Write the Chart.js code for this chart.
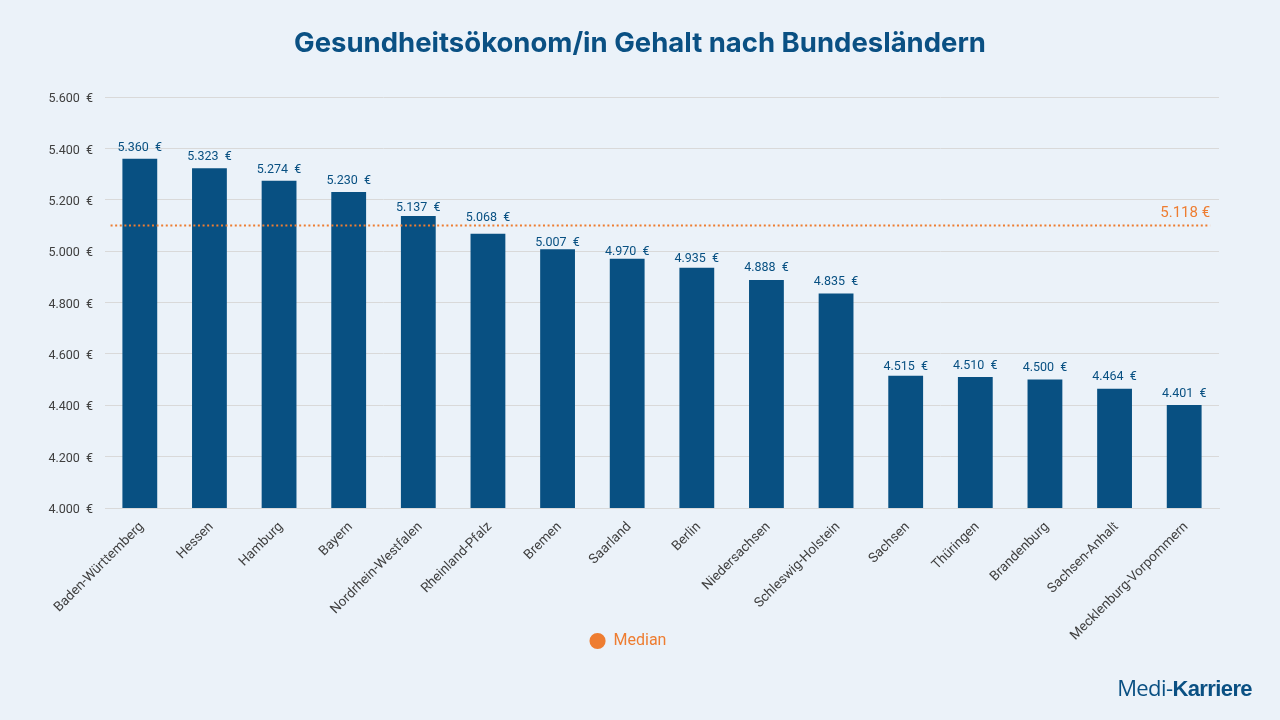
<!DOCTYPE html>
<html>
<head>
<meta charset="utf-8">
<title>Gesundheitsökonom/in Gehalt</title>
<script src="https://cdn.jsdelivr.net/npm/chart.js@4"></script>
<style>
  html, body { margin: 0; padding: 0; background: #ebf2f9; }
  #wrap { position: relative; width: 1280px; height: 720px; overflow: hidden; }
  #logo { position: absolute; right: 28px; top: 672px; color: #0a5083; font: 400 22px "Open Sans", sans-serif; letter-spacing: -0.6px; }
  #logo b { font-family: "Liberation Sans", sans-serif; font-weight: 700; }
</style>
</head>
<body>
<div id="wrap">
  <canvas id="chart" width="1280" height="720"></canvas>
  <div id="logo">Medi-<b>Karriere</b></div>
</div>
<script>
var states = ["Baden-Württemberg", "Hessen", "Hamburg", "Bayern", "Nordrhein-Westfalen", "Rheinland-Pfalz", "Bremen", "Saarland", "Berlin", "Niedersachsen", "Schleswig-Holstein", "Sachsen", "Thüringen", "Brandenburg", "Sachsen-Anhalt", "Mecklenburg-Vorpommern"];
var salaries = [5360, 5323, 5274, 5230, 5137, 5068, 5007, 4970, 4935, 4888, 4835, 4515, 4510, 4500, 4464, 4401];
var medianDrawn = 5100; // the line sits here in the picture, its label says 5.118
var medianText = "5.118 €";
var medianSpan = [0.005, 0.992];

var blue = "#085082";
var orange = "#ee7d31";

function euro(v) {
    return String(v).replace(/(\d)(\d{3})$/, "$1.$2") + "  €";
}

// some value labels were moved by hand in the original, index -> pixels up
var labelLift = {4: -3, 5: 5, 6: -5, 7: -4, 8: -2, 9: 1, 11: -2, 14: 1};

var extras = {
    id: "extras",
    afterLayout: function (chart) {
        // title is centred on the page, not on the padded layout
        chart.titleBlock.left = 0;
        chart.titleBlock.right = 1280;
        // long rotated labels run past the legend line, do not clip them
        chart.scales.x.bottom = 700;
    },
    afterDatasetsDraw: function (chart) {
        var ctx = chart.ctx;
        ctx.save();
        ctx.font = "12.5px Roboto";
        ctx.fillStyle = blue;
        ctx.textAlign = "center";
        ctx.textBaseline = "bottom";
        chart.getDatasetMeta(0).data.forEach(function (bar, i) {
            ctx.fillText(euro(salaries[i]), bar.x, bar.y - 5 - (labelLift[i] || 0));
        });
        ctx.font = "15px Roboto";
        ctx.fillStyle = orange;
        ctx.textAlign = "right";
        ctx.fillText(medianText, chart.scales.x2.getPixelForValue(medianSpan[1]), chart.scales.y.getPixelForValue(medianDrawn) - 5);
        ctx.restore();
    }
};

new Chart(document.getElementById("chart"), {
    type: "bar",
    data: {
        labels: states,
        datasets: [
            {
                label: "Gehalt",
                data: salaries,
                backgroundColor: blue,
                barPercentage: 0.5,
                categoryPercentage: 1,
                grouped: false,
                order: 2
            },
            {
                type: "line",
                label: "Median",
                xAxisID: "x2",
                data: [{x: medianSpan[0], y: medianDrawn}, {x: medianSpan[1], y: medianDrawn}],
                borderColor: orange,
                backgroundColor: orange,
                borderWidth: 2,
                borderDash: [2, 2.6],
                pointRadius: 0,
                pointStyle: "circle",
                order: 1
            }
        ]
    },
    options: {
        responsive: false,
        animation: false,
        layout: {padding: {left: 37, right: 61, top: 0, bottom: 61}},
        scales: {
            x: {
                grid: {display: false},
                border: {color: "#d9d9d9"},
                ticks: {
                    color: "#404040",
                    font: {family: "Roboto", size: 13.5},
                    minRotation: 45,
                    maxRotation: 45,
                    labelOffset: 2,
                    autoSkip: false
                },
                afterFit: function (scale) { scale.height = 115; }
            },
            x2: {type: "linear", display: false, offset: false, min: 0, max: 1},
            y: {
                min: 4000,
                max: 5600,
                grid: {color: "#d9d9d9", drawTicks: false},
                border: {display: false},
                ticks: {
                    stepSize: 200,
                    color: "#404040",
                    padding: 12,
                    labelOffset: 2,
                    font: {family: "Roboto", size: 12.5},
                    callback: function (v) { return euro(v); }
                },
                afterFit: function (scale) { scale.width = 68; }
            }
        },
        plugins: {
            title: {
                display: true,
                text: "Gesundheitsökonom/in Gehalt nach Bundesländern",
                color: "#0a5083",
                font: {family: "Inter", size: 27.5, weight: "bold"},
                padding: {top: 27, bottom: 37}
            },
            legend: {
                position: "bottom",
                labels: {
                    usePointStyle: true,
                    boxHeight: 10,
                    color: orange,
                    font: {family: "Roboto", size: 16},
                    filter: function (item) { return item.text === "Median"; }
                }
            },
            tooltip: {enabled: false}
        }
    },
    plugins: [extras]
});
</script>
</body>
</html>
